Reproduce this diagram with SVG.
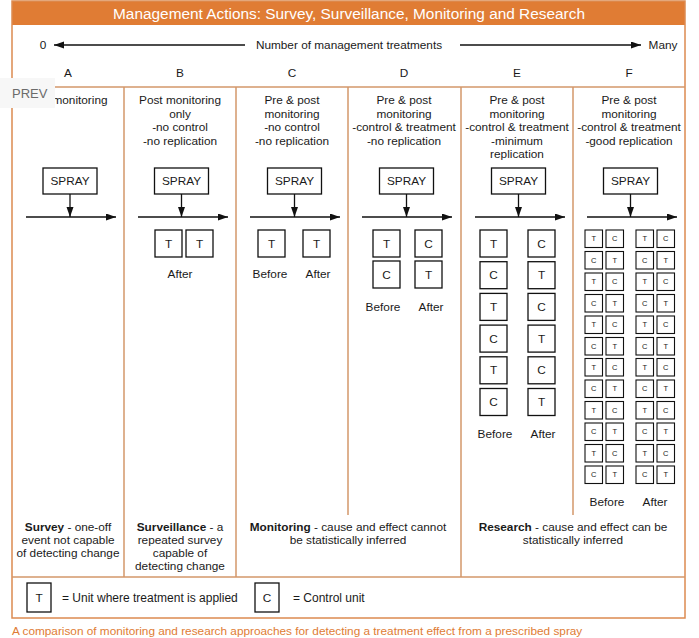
<svg xmlns="http://www.w3.org/2000/svg" width="699" height="638" viewBox="0 0 699 638">
<style>
text{font-family:"Liberation Sans",Arial,sans-serif;fill:#1a1a1a}
.t{font-size:11.8px;text-anchor:middle}
.b{font-weight:bold}
.frame{fill:none;stroke:#dc8a50;stroke-width:1.5}
.div{stroke:#d3976a;stroke-width:1.5;fill:none}
.ln{stroke:#111;stroke-width:1.3;fill:none}
.bx{fill:#fff;stroke:#111;stroke-width:1.3}
.sb{fill:#fff;stroke:#111;stroke-width:1.1}
.c{font-size:11.8px;text-anchor:middle;dominant-baseline:central}
.s{font-size:7.5px;text-anchor:middle;dominant-baseline:central}
</style>
<defs>
<marker id="ah" markerUnits="userSpaceOnUse" markerWidth="11" markerHeight="8" refX="10" refY="3.5" orient="auto">
<path d="M0,0 L10,3.5 L0,7 z" fill="#111"/>
</marker>
</defs>
<rect width="699" height="638" fill="#fff"/>
<g id="frame">
<rect x="12" y="1" width="673" height="24" fill="#e07c34"/>
<text x="349" y="18.5" style="font-size:15.4px;text-anchor:middle;fill:#fff">Management Actions: Survey, Surveillance, Monitoring and Research</text>
<rect class="frame" x="12" y="1" width="673" height="617"/>
<line class="div" x1="12" y1="87" x2="685" y2="87"/>
<line class="div" x1="124" y1="87" x2="124" y2="577"/>
<line class="div" x1="236" y1="87" x2="236" y2="577"/>
<line class="div" x1="348" y1="87" x2="348" y2="515"/>
<line class="div" x1="461" y1="87" x2="461" y2="577"/>
<line class="div" x1="573" y1="87" x2="573" y2="515"/>
<line class="div" x1="12" y1="577" x2="685" y2="577"/>
</g>
<g id="axis">
<text x="43" y="49" class="t">0</text>
<text x="349" y="49" class="t">Number of management treatments</text>
<text x="663" y="49" class="t">Many</text>
<text x="68" y="77" class="t">A</text>
<text x="180" y="77" class="t">B</text>
<text x="292" y="77" class="t">C</text>
<text x="404" y="77" class="t">D</text>
<text x="517" y="77" class="t">E</text>
<text x="629" y="77" class="t">F</text>
</g>
<g id="connectors">
<line class="ln" x1="245" y1="45" x2="54" y2="45" marker-end="url(#ah)"/>
<line class="ln" x1="460" y1="45" x2="641" y2="45" marker-end="url(#ah)"/>
<line class="ln" x1="26" y1="217" x2="116" y2="217" marker-end="url(#ah)"/>
<line class="ln" x1="138" y1="217" x2="228" y2="217" marker-end="url(#ah)"/>
<line class="ln" x1="250" y1="217" x2="340" y2="217" marker-end="url(#ah)"/>
<line class="ln" x1="362" y1="217" x2="452" y2="217" marker-end="url(#ah)"/>
<line class="ln" x1="475" y1="217" x2="565" y2="217" marker-end="url(#ah)"/>
<line class="ln" x1="587" y1="217" x2="677" y2="217" marker-end="url(#ah)"/>
<line class="ln" x1="70" y1="194" x2="70" y2="217" marker-end="url(#ah)"/>
<line class="ln" x1="181.5" y1="194" x2="181.5" y2="217" marker-end="url(#ah)"/>
<line class="ln" x1="294.5" y1="194" x2="294.5" y2="217" marker-end="url(#ah)"/>
<line class="ln" x1="406.5" y1="194" x2="406.5" y2="217" marker-end="url(#ah)"/>
<line class="ln" x1="518.5" y1="194" x2="518.5" y2="217" marker-end="url(#ah)"/>
<line class="ln" x1="630.5" y1="194" x2="630.5" y2="217" marker-end="url(#ah)"/>
</g>
<g id="colA">
<text x="80" y="104" class="t">monitoring</text>
<rect class="bx" x="43" y="168" width="54" height="26"/>
<text x="70" y="181" class="c">SPRAY</text>
</g>
<g id="colB">
<text class="t" x="180" y="104">Post monitoring</text>
<text class="t" x="180" y="117.5">only</text>
<text class="t" x="180" y="131">-no control</text>
<text class="t" x="180" y="144.5">-no replication</text>
<rect class="bx" x="154.5" y="168" width="54" height="26"/>
<text x="181.5" y="181" class="c">SPRAY</text>
<rect class="bx" x="155" y="230" width="27" height="27"/><text class="c" x="168.5" y="243.5">T</text>
<rect class="bx" x="186" y="230" width="27" height="27"/><text class="c" x="199.5" y="243.5">T</text>
<text class="t" x="180" y="278">After</text>
</g>
<g id="colC">
<text class="t" x="292" y="104">Pre &amp; post</text>
<text class="t" x="292" y="117.5">monitoring</text>
<text class="t" x="292" y="131">-no control</text>
<text class="t" x="292" y="144.5">-no replication</text>
<rect class="bx" x="267.5" y="168" width="54" height="26"/>
<text x="294.5" y="181" class="c">SPRAY</text>
<rect class="bx" x="258" y="230" width="27" height="27"/><text class="c" x="271.5" y="243.5">T</text>
<rect class="bx" x="303" y="230" width="27" height="27"/><text class="c" x="316.5" y="243.5">T</text>
<text class="t" x="270" y="278">Before</text>
<text class="t" x="318" y="278">After</text>
</g>
<g id="colD">
<text class="t" x="404" y="104">Pre &amp; post</text>
<text class="t" x="404" y="117.5">monitoring</text>
<text class="t" x="404" y="131">-control &amp; treatment</text>
<text class="t" x="404" y="144.5">-no replication</text>
<rect class="bx" x="379.5" y="168" width="54" height="26"/>
<text x="406.5" y="181" class="c">SPRAY</text>
<rect class="bx" x="373" y="230" width="27" height="27"/><text class="c" x="386.5" y="243.5">T</text>
<rect class="bx" x="415" y="230" width="27" height="27"/><text class="c" x="428.5" y="243.5">C</text>
<rect class="bx" x="373" y="261" width="27" height="27"/><text class="c" x="386.5" y="274.5">C</text>
<rect class="bx" x="415" y="261" width="27" height="27"/><text class="c" x="428.5" y="274.5">T</text>
<text class="t" x="383" y="311">Before</text>
<text class="t" x="431" y="311">After</text>
</g>
<g id="colE">
<text class="t" x="517" y="104">Pre &amp; post</text>
<text class="t" x="517" y="117.5">monitoring</text>
<text class="t" x="517" y="131">-control &amp; treatment</text>
<text class="t" x="517" y="144.5">-minimum</text>
<text class="t" x="517" y="158">replication</text>
<rect class="bx" x="491.5" y="168" width="54" height="26"/>
<text x="518.5" y="181" class="c">SPRAY</text>
<rect class="bx" x="480" y="230" width="27" height="27"/><text class="c" x="493.5" y="243.5">T</text>
<rect class="bx" x="528" y="230" width="27" height="27"/><text class="c" x="541.5" y="243.5">C</text>
<rect class="bx" x="480" y="261.7" width="27" height="27"/><text class="c" x="493.5" y="275.2">C</text>
<rect class="bx" x="528" y="261.7" width="27" height="27"/><text class="c" x="541.5" y="275.2">T</text>
<rect class="bx" x="480" y="293.4" width="27" height="27"/><text class="c" x="493.5" y="306.9">T</text>
<rect class="bx" x="528" y="293.4" width="27" height="27"/><text class="c" x="541.5" y="306.9">C</text>
<rect class="bx" x="480" y="325.1" width="27" height="27"/><text class="c" x="493.5" y="338.6">C</text>
<rect class="bx" x="528" y="325.1" width="27" height="27"/><text class="c" x="541.5" y="338.6">T</text>
<rect class="bx" x="480" y="356.8" width="27" height="27"/><text class="c" x="493.5" y="370.3">T</text>
<rect class="bx" x="528" y="356.8" width="27" height="27"/><text class="c" x="541.5" y="370.3">C</text>
<rect class="bx" x="480" y="388.5" width="27" height="27"/><text class="c" x="493.5" y="402">C</text>
<rect class="bx" x="528" y="388.5" width="27" height="27"/><text class="c" x="541.5" y="402">T</text>
<text class="t" x="495" y="438">Before</text>
<text class="t" x="543" y="438">After</text>
</g>
<g id="colF">
<text class="t" x="629" y="104">Pre &amp; post</text>
<text class="t" x="629" y="117.5">monitoring</text>
<text class="t" x="629" y="131">-control &amp; treatment</text>
<text class="t" x="629" y="144.5">-good replication</text>
<rect class="bx" x="603.5" y="168" width="54" height="26"/>
<text x="630.5" y="181" class="c">SPRAY</text>
<g id="fgrid">
<rect class="sb" x="585" y="230" width="17.5" height="17.5"/><text class="s" x="593.75" y="238.75">T</text>
<rect class="sb" x="606" y="230" width="17.5" height="17.5"/><text class="s" x="614.75" y="238.75">C</text>
<rect class="sb" x="636" y="230" width="17.5" height="17.5"/><text class="s" x="644.75" y="238.75">T</text>
<rect class="sb" x="657" y="230" width="17.5" height="17.5"/><text class="s" x="665.75" y="238.75">C</text>
<rect class="sb" x="585" y="251.5" width="17.5" height="17.5"/><text class="s" x="593.75" y="260.25">C</text>
<rect class="sb" x="606" y="251.5" width="17.5" height="17.5"/><text class="s" x="614.75" y="260.25">T</text>
<rect class="sb" x="636" y="251.5" width="17.5" height="17.5"/><text class="s" x="644.75" y="260.25">C</text>
<rect class="sb" x="657" y="251.5" width="17.5" height="17.5"/><text class="s" x="665.75" y="260.25">T</text>
<rect class="sb" x="585" y="273" width="17.5" height="17.5"/><text class="s" x="593.75" y="281.75">T</text>
<rect class="sb" x="606" y="273" width="17.5" height="17.5"/><text class="s" x="614.75" y="281.75">C</text>
<rect class="sb" x="636" y="273" width="17.5" height="17.5"/><text class="s" x="644.75" y="281.75">T</text>
<rect class="sb" x="657" y="273" width="17.5" height="17.5"/><text class="s" x="665.75" y="281.75">C</text>
<rect class="sb" x="585" y="294.5" width="17.5" height="17.5"/><text class="s" x="593.75" y="303.25">C</text>
<rect class="sb" x="606" y="294.5" width="17.5" height="17.5"/><text class="s" x="614.75" y="303.25">T</text>
<rect class="sb" x="636" y="294.5" width="17.5" height="17.5"/><text class="s" x="644.75" y="303.25">C</text>
<rect class="sb" x="657" y="294.5" width="17.5" height="17.5"/><text class="s" x="665.75" y="303.25">T</text>
<rect class="sb" x="585" y="316" width="17.5" height="17.5"/><text class="s" x="593.75" y="324.75">T</text>
<rect class="sb" x="606" y="316" width="17.5" height="17.5"/><text class="s" x="614.75" y="324.75">C</text>
<rect class="sb" x="636" y="316" width="17.5" height="17.5"/><text class="s" x="644.75" y="324.75">T</text>
<rect class="sb" x="657" y="316" width="17.5" height="17.5"/><text class="s" x="665.75" y="324.75">C</text>
<rect class="sb" x="585" y="337.5" width="17.5" height="17.5"/><text class="s" x="593.75" y="346.25">C</text>
<rect class="sb" x="606" y="337.5" width="17.5" height="17.5"/><text class="s" x="614.75" y="346.25">T</text>
<rect class="sb" x="636" y="337.5" width="17.5" height="17.5"/><text class="s" x="644.75" y="346.25">C</text>
<rect class="sb" x="657" y="337.5" width="17.5" height="17.5"/><text class="s" x="665.75" y="346.25">T</text>
<rect class="sb" x="585" y="358.5" width="17.5" height="17.5"/><text class="s" x="593.75" y="367.25">T</text>
<rect class="sb" x="606" y="358.5" width="17.5" height="17.5"/><text class="s" x="614.75" y="367.25">C</text>
<rect class="sb" x="636" y="358.5" width="17.5" height="17.5"/><text class="s" x="644.75" y="367.25">T</text>
<rect class="sb" x="657" y="358.5" width="17.5" height="17.5"/><text class="s" x="665.75" y="367.25">C</text>
<rect class="sb" x="585" y="380" width="17.5" height="17.5"/><text class="s" x="593.75" y="388.75">C</text>
<rect class="sb" x="606" y="380" width="17.5" height="17.5"/><text class="s" x="614.75" y="388.75">T</text>
<rect class="sb" x="636" y="380" width="17.5" height="17.5"/><text class="s" x="644.75" y="388.75">C</text>
<rect class="sb" x="657" y="380" width="17.5" height="17.5"/><text class="s" x="665.75" y="388.75">T</text>
<rect class="sb" x="585" y="401.5" width="17.5" height="17.5"/><text class="s" x="593.75" y="410.25">T</text>
<rect class="sb" x="606" y="401.5" width="17.5" height="17.5"/><text class="s" x="614.75" y="410.25">C</text>
<rect class="sb" x="636" y="401.5" width="17.5" height="17.5"/><text class="s" x="644.75" y="410.25">T</text>
<rect class="sb" x="657" y="401.5" width="17.5" height="17.5"/><text class="s" x="665.75" y="410.25">C</text>
<rect class="sb" x="585" y="423" width="17.5" height="17.5"/><text class="s" x="593.75" y="431.75">C</text>
<rect class="sb" x="606" y="423" width="17.5" height="17.5"/><text class="s" x="614.75" y="431.75">T</text>
<rect class="sb" x="636" y="423" width="17.5" height="17.5"/><text class="s" x="644.75" y="431.75">C</text>
<rect class="sb" x="657" y="423" width="17.5" height="17.5"/><text class="s" x="665.75" y="431.75">T</text>
<rect class="sb" x="585" y="444.5" width="17.5" height="17.5"/><text class="s" x="593.75" y="453.25">T</text>
<rect class="sb" x="606" y="444.5" width="17.5" height="17.5"/><text class="s" x="614.75" y="453.25">C</text>
<rect class="sb" x="636" y="444.5" width="17.5" height="17.5"/><text class="s" x="644.75" y="453.25">T</text>
<rect class="sb" x="657" y="444.5" width="17.5" height="17.5"/><text class="s" x="665.75" y="453.25">C</text>
<rect class="sb" x="585" y="466" width="17.5" height="17.5"/><text class="s" x="593.75" y="474.75">C</text>
<rect class="sb" x="606" y="466" width="17.5" height="17.5"/><text class="s" x="614.75" y="474.75">T</text>
<rect class="sb" x="636" y="466" width="17.5" height="17.5"/><text class="s" x="644.75" y="474.75">C</text>
<rect class="sb" x="657" y="466" width="17.5" height="17.5"/><text class="s" x="665.75" y="474.75">T</text>
</g>
<text class="t" x="607" y="506">Before</text>
<text class="t" x="655" y="506">After</text>
</g>
<g id="summaries">
<text class="t" x="68" y="531"><tspan class="b">Survey</tspan> - one-off</text>
<text class="t" x="68" y="544">event not capable</text>
<text class="t" x="68" y="557">of detecting change</text>
<text class="t" x="180" y="531"><tspan class="b">Surveillance</tspan> - a</text>
<text class="t" x="180" y="544">repeated survey</text>
<text class="t" x="180" y="557">capable of</text>
<text class="t" x="180" y="570">detecting change</text>
<text class="t" x="348" y="531"><tspan class="b">Monitoring</tspan> - cause and effect cannot</text>
<text class="t" x="348" y="544">be statistically inferred</text>
<text class="t" x="573" y="531"><tspan class="b">Research</tspan> - cause and effect can be</text>
<text class="t" x="573" y="544">statistically inferred</text>
</g>
<g id="legend">
<rect class="bx" x="27" y="583" width="24" height="29"/>
<text class="c" x="39" y="597.5">T</text>
<text x="62" y="601.5" style="font-size:12px">= Unit where treatment is applied</text>
<rect class="bx" x="255" y="583" width="24" height="29"/>
<text class="c" x="267" y="597.5">C</text>
<text x="293" y="601.5" style="font-size:12px">= Control unit</text>
</g>
<text x="12" y="635" style="font-size:11.8px;fill:#e07c34">A comparison of monitoring and research approaches for detecting a treatment effect from a prescribed spray</text>
<g id="prev">
<rect x="0" y="78" width="55" height="30" fill="#f7f7f7"/>
<text x="12" y="98" style="font-size:13px;fill:#6b6b6b">PREV</text>
</g>
</svg>
